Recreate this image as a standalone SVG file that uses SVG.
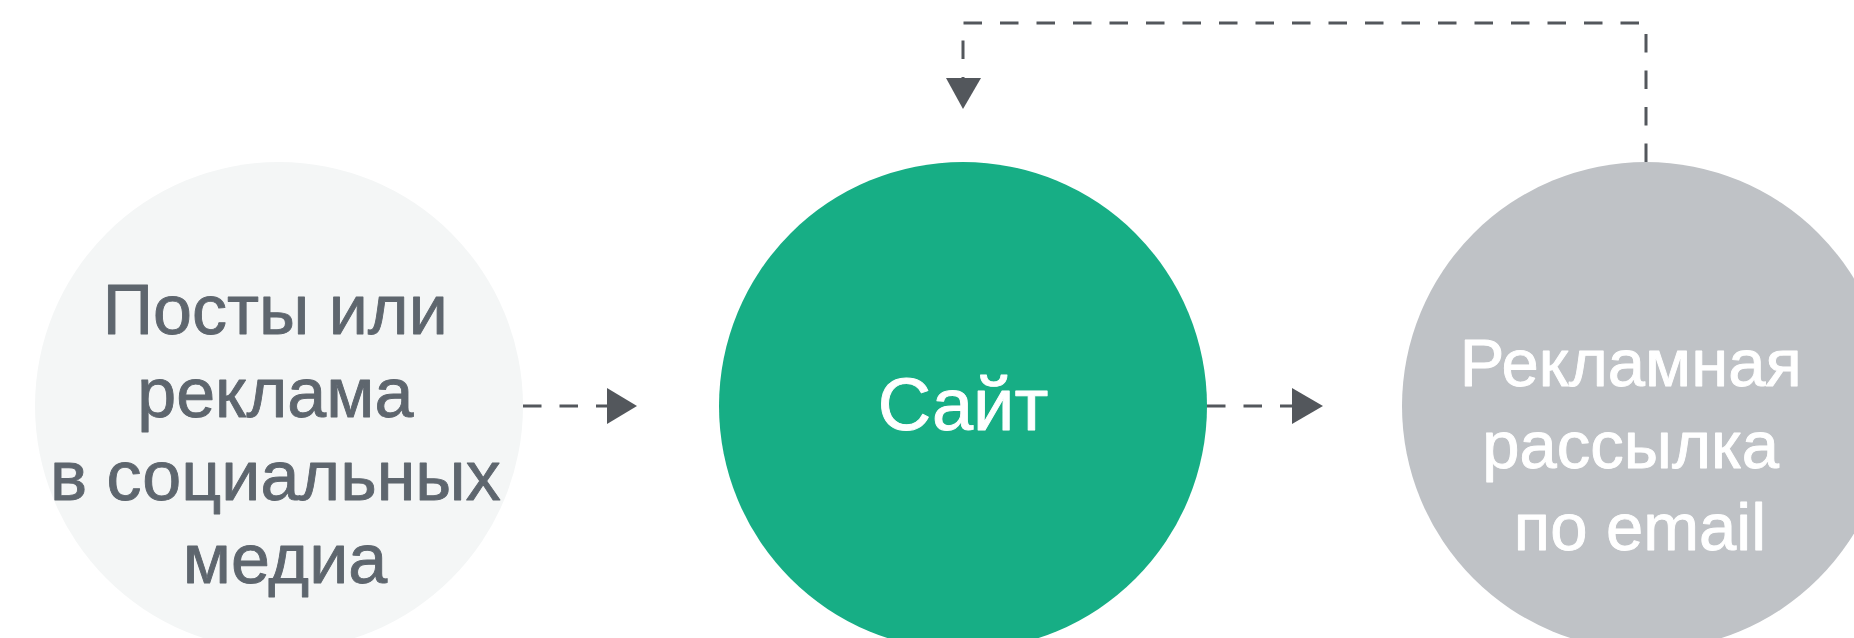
<svg xmlns="http://www.w3.org/2000/svg" width="1854" height="638" viewBox="0 0 1854 638">
<style>
.lbl{font-family:"Liberation Sans",Arial,sans-serif;text-anchor:middle;font-size:70px;stroke-width:0.9;stroke-linejoin:round}
.dark{fill:#5e666e;stroke:#5e666e}
.light{fill:#ffffff;stroke:#ffffff}
.conn{fill:none;stroke:#53575c;stroke-width:3;stroke-dasharray:18.5 18}
.head{fill:#53575c}
</style>
<rect x="0" y="0" width="1854" height="638" fill="#ffffff"/>
<g id="connectors">
<path class="conn" d="M523 406 H607"/>
<polygon class="head" points="607,388 637,406 607,424"/>
<path class="conn" d="M1207 406 H1292"/>
<polygon class="head" points="1292,388 1323,406 1292,424"/>
<path class="conn" d="M1646 162 V23 H963 V78"/>
<polygon class="head" points="946,78 981,78 963,109"/>
</g>
<g id="node-social">
<circle cx="279" cy="406" r="244" fill="#f4f6f6"/>
<text class="lbl dark">
<tspan x="285" y="334">Посты или</tspan>
<tspan x="285" y="417">реклама</tspan>
<tspan x="285" y="500">в социальных</tspan>
<tspan x="285" y="583">медиа</tspan>
</text>
</g>
<g id="node-site">
<circle cx="963" cy="406" r="244" fill="#17ae85"/>
<text class="lbl light" style="font-size:74px" x="963" y="430">Сайт</text>
</g>
<g id="node-email">
<circle cx="1646" cy="406" r="244" fill="#bfc2c6"/>
<text class="lbl light" style="font-size:67px">
<tspan x="1640" y="386">Рекламная</tspan>
<tspan x="1640" y="468">рассылка</tspan>
<tspan x="1640" y="550">по email</tspan>
</text>
</g>
</svg>
